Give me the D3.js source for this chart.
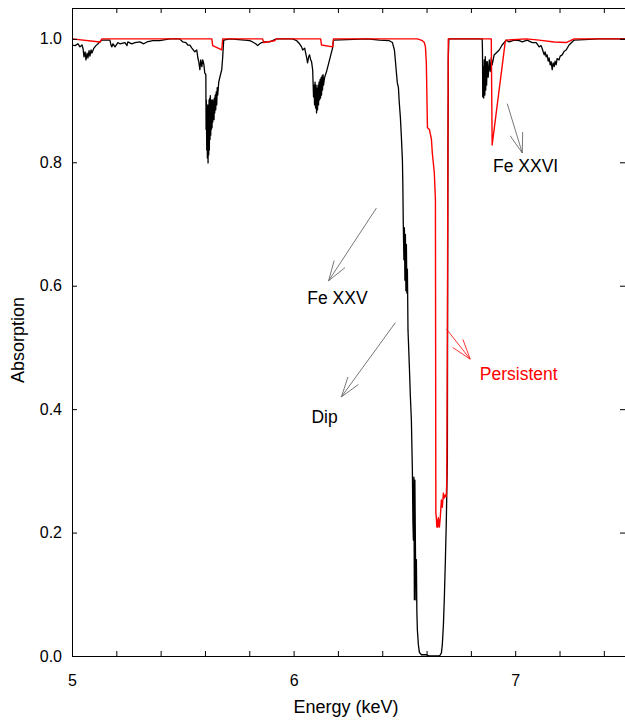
<!DOCTYPE html>
<html><head><meta charset="utf-8">
<script src="https://cdn.jsdelivr.net/npm/d3@7"></script>
<style>
html,body{margin:0;padding:0;background:#fff;}
text{font-family:"Liberation Sans",Arial,sans-serif;}
</style></head>
<body>
<script>
// ---- data (Energy keV, Absorption) ----
const dipSpectrum = [
[5.000,0.990],[5.014,0.989],[5.027,0.992],[5.036,0.987],[5.045,0.990],[5.050,0.984],[5.054,0.971],[5.059,0.979],
[5.063,0.966],[5.068,0.977],[5.072,0.969],[5.077,0.981],[5.081,0.972],[5.086,0.982],[5.090,0.977],[5.099,0.985],
[5.108,0.989],[5.126,0.995],[5.135,0.998],[5.171,0.998],[5.176,0.990],[5.180,0.987],[5.185,0.992],[5.194,0.987],
[5.207,0.994],[5.216,0.992],[5.239,0.994],[5.248,0.989],[5.252,0.995],[5.270,0.992],[5.284,0.994],[5.306,0.995],
[5.324,0.992],[5.338,0.995],[5.365,0.997],[5.396,0.997],[5.441,1.000],[5.486,1.000],[5.500,0.995],[5.514,0.994],
[5.523,0.990],[5.532,0.990],[5.541,0.985],[5.554,0.979],[5.563,0.982],[5.568,0.969],[5.572,0.963],[5.577,0.950],
[5.581,0.966],[5.586,0.955],[5.590,0.966],[5.595,0.959],[5.599,0.945],[5.604,0.942],
[5.6050,0.853],[5.6063,0.901],[5.6081,0.820],[5.6095,0.885],[5.6108,0.807],[5.6126,0.893],[5.6140,0.799],
[5.6153,0.885],[5.6171,0.812],[5.6185,0.901],[5.6198,0.820],[5.6216,0.904],[5.6230,0.837],[5.6243,0.908],
[5.6261,0.844],[5.6275,0.901],[5.6288,0.853],[5.6306,0.893],[5.6320,0.856],[5.6333,0.901],[5.6351,0.865],
[5.6365,0.896],[5.6378,0.872],[5.6396,0.901],[5.6410,0.869],[5.6423,0.904],[5.6441,0.880],[5.6464,0.909],
[5.6486,0.885],[5.6509,0.914],[5.6532,0.893],[5.6554,0.921],[5.6577,0.909],[5.6622,0.930],[5.6667,0.937],
[5.6757,0.950],[5.6802,0.971],[5.6824,0.985],[5.6847,0.998],
[5.712,1.000],[5.779,0.998],[5.802,0.997],[5.815,0.995],[5.829,0.992],[5.838,0.989],[5.847,0.992],[5.856,0.994],
[5.869,0.995],[5.892,0.995],[5.923,1.000],[5.995,1.000],[6.014,0.997],[6.027,0.992],[6.036,0.987],[6.041,0.982],
[6.050,0.985],[6.059,0.969],[6.063,0.961],[6.068,0.971],[6.072,0.974],[6.077,0.966],[6.081,0.963],[6.086,0.950],
[6.090,0.906],[6.0923,0.925],[6.0946,0.893],[6.0968,0.930],[6.0991,0.888],[6.1014,0.925],[6.1036,0.880],
[6.1059,0.920],[6.1081,0.885],[6.1104,0.925],[6.1126,0.893],[6.1149,0.930],[6.1171,0.901],[6.1194,0.934],
[6.1216,0.904],[6.1239,0.937],[6.1261,0.909],[6.1284,0.940],[6.1306,0.917],[6.1329,0.942],[6.1351,0.925],
[6.1396,0.937],[6.1486,0.947],[6.1622,0.966],[6.1757,0.985],[6.1802,0.998],
[6.333,1.000],[6.387,0.998],[6.432,0.997],[6.446,0.994],[6.455,0.982],[6.459,0.966],[6.464,0.945],[6.468,0.929],
[6.473,0.921],[6.477,0.896],[6.482,0.872],[6.486,0.844],[6.491,0.804],[6.493,0.763],[6.495,0.699],
[6.4977,0.642],[6.5000,0.694],[6.5023,0.609],[6.5045,0.683],[6.5068,0.592],[6.5090,0.667],[6.5113,0.588],
[6.5135,0.627],[6.5149,0.577],[6.5162,0.528],[6.5180,0.512],[6.5225,0.468],[6.5270,0.420],[6.5315,0.382],
[6.5360,0.301],[6.5383,0.220],[6.5405,0.188],[6.5428,0.290],[6.5450,0.091],[6.5473,0.285],[6.5495,0.188],
[6.5518,0.091],[6.5541,0.156],[6.5563,0.070],[6.5586,0.042],[6.5631,0.018],[6.5676,0.006],[6.5766,0.002],
[6.5991,0.002],[6.613,0.000],[6.658,0.000],[6.662,0.002],[6.667,0.005],[6.671,0.018],[6.676,0.050],[6.680,0.091],
[6.685,0.156],[6.689,0.216],[6.694,0.321],[6.6950,0.577],[6.6964,0.820],[6.698,0.914],[6.698,0.966],[6.7005,1.000],
[6.851,1.000],[6.8523,0.982],[6.8536,0.906],[6.856,0.955],[6.858,0.904],[6.860,0.966],[6.863,0.909],[6.865,0.971],
[6.867,0.917],[6.869,0.963],[6.871,0.925],[6.874,0.963],[6.878,0.938],[6.883,0.966],[6.887,0.947],[6.892,0.969],
[6.896,0.958],[6.905,0.974],[6.914,0.977],[6.928,0.982],[6.941,0.990],[6.950,0.994],[6.959,0.998],[6.973,0.995],
[6.995,0.998],[7.018,0.997],[7.032,0.995],[7.054,0.998],[7.077,0.994],[7.095,0.994],[7.108,0.987],[7.117,0.989],
[7.122,0.984],[7.131,0.974],[7.135,0.979],[7.140,0.971],[7.144,0.974],[7.149,0.964],[7.153,0.969],[7.158,0.958],
[7.162,0.963],[7.167,0.950],[7.171,0.961],[7.176,0.955],[7.180,0.964],[7.185,0.958],[7.189,0.968],[7.198,0.966],
[7.203,0.972],[7.212,0.974],[7.221,0.980],[7.230,0.982],[7.243,0.990],[7.266,0.998],[7.378,1.000],[7.500,1.000]
];
const persistentSpectrum = [
[5.000,1.000],[5.126,0.995],[5.135,1.000],[5.631,1.000],[5.635,0.989],[5.676,0.982],[5.680,1.000],
[5.860,1.000],[5.865,0.994],[5.914,0.997],[5.923,1.000],[6.122,1.000],[6.126,0.990],[6.176,0.987],[6.180,1.000],
[6.559,1.000],[6.581,0.997],[6.590,0.994],[6.595,0.987],[6.599,0.961],[6.604,0.856],[6.613,0.853],[6.622,0.837],
[6.626,0.815],[6.635,0.783],[6.640,0.739],[6.6419,0.232],[6.644,0.225],[6.6464,0.209],[6.649,0.220],
[6.6509,0.209],[6.6532,0.224],[6.658,0.209],[6.662,0.225],[6.667,0.253],[6.671,0.241],[6.676,0.264],
[6.680,0.256],[6.685,0.261],[6.689,0.258],[6.6914,0.285],[6.694,0.528],[6.698,1.000],
[6.892,1.000],[6.896,0.828],[6.955,0.995],[6.959,0.998],[7.050,1.000],[7.108,0.998],[7.176,0.995],
[7.230,0.994],[7.266,1.000],[7.500,1.000]
];
const xTicks = [5.0,5.2,5.4,5.6,5.8,6.0,6.2,6.4,6.6,6.8,7.0,7.2,7.4];
const xTickLabels = {"5.0":"5","6.0":"6","7.0":"7"};
const yTicks = [0.0,0.2,0.4,0.6,0.8,1.0];
const annotationLabels = ["Fe XXV","Dip","Persistent","Fe XXVI"];
const annotationText = [[6.198,0.5705],[6.140,0.3776],[7.016,0.447],[7.047,0.785]];
const annotationArrowFrom = [[6.374,0.726],[6.459,0.540],[6.689,0.530],[6.964,0.895]];
const annotationArrowTo = [[6.158,0.608],[6.216,0.420],[6.797,0.481],[7.032,0.815]];
const annotationColors = ["#555","#555","#ff0000","#555"];
const annotationTextColors = ["#000","#000","#ff0000","#000"];

// ---- layout ----
const W = 625, H = 720;
const L = 72, T = 8, R = 626, B = 656;
const svg = d3.select("body").append("svg").attr("width", W).attr("height", H)
  .style("display","block");
svg.append("rect").attr("width",W).attr("height",H).attr("fill","#fff");

const x = d3.scaleLinear().domain([5, 7.5]).range([L, R]);
const y = d3.scaleLinear().domain([0, 1.05]).range([B, T]);

svg.append("clipPath").attr("id","clip").append("rect")
  .attr("x",L).attr("y",T).attr("width",R-L).attr("height",B-T);

const line = d3.line().x(d => x(d[0])).y(d => y(d[1]));
const g = svg.append("g").attr("clip-path","url(#clip)");
g.append("path").datum(dipSpectrum).attr("d", line)
  .attr("fill","none").attr("stroke","#000").attr("stroke-width",1.3).attr("stroke-linejoin","round");
g.append("path").datum(persistentSpectrum).attr("d", line)
  .attr("fill","none").attr("stroke","#ff0000").attr("stroke-width",1.4).attr("stroke-linejoin","round");

// ---- axes ----
const fmtX = d => xTickLabels[d.toFixed(1)] || "";
const axB = svg.append("g").attr("transform",`translate(0,${B})`)
  .call(d3.axisBottom(x).tickValues(xTicks).tickFormat(fmtX).tickSizeInner(-5).tickSizeOuter(0).tickPadding(19));
const axT = svg.append("g").attr("transform",`translate(0,${T})`)
  .call(d3.axisTop(x).tickValues(xTicks).tickFormat("").tickSizeInner(-5).tickSizeOuter(0));
const axL = svg.append("g").attr("transform",`translate(${L},0)`)
  .call(d3.axisLeft(y).tickValues(yTicks).tickFormat(d3.format(".1f")).tickSizeInner(-5).tickSizeOuter(0).tickPadding(10));
const axR = svg.append("g").attr("transform",`translate(${R-1},0)`)
  .call(d3.axisRight(y).tickValues(yTicks).tickFormat("").tickSizeInner(-5).tickSizeOuter(0));
[axB,axT,axL,axR].forEach(a => {
  a.selectAll("path.domain").attr("stroke","#000").attr("stroke-width",1);
  a.selectAll(".tick line").attr("stroke","#000");
  a.selectAll("text").style("font-family","'Liberation Sans',Arial,sans-serif")
    .style("font-size","16px").attr("fill","#000");
});
svg.append("text").attr("x", (L+R)/2 - 3).attr("y", 713).attr("text-anchor","middle")
  .style("font-size","18px").text("Energy (keV)");
svg.append("text").attr("transform",`translate(24,${(T+B)/2+8}) rotate(-90)`).attr("text-anchor","middle")
  .style("font-size","18px").text("Absorption");

// ---- annotations ----
const headLen = 21, headAng = 18 * Math.PI/180;
annotationLabels.forEach((lab, i) => {
  const [x1,y1] = [x(annotationArrowFrom[i][0]), y(annotationArrowFrom[i][1])];
  const [x2,y2] = [x(annotationArrowTo[i][0]), y(annotationArrowTo[i][1])];
  const a = Math.atan2(y1-y2, x1-x2);
  const col = annotationColors[i];
  const ag = svg.append("g").attr("stroke",col).attr("stroke-width",0.8).attr("fill","none");
  ag.append("line").attr("x1",x1).attr("y1",y1).attr("x2",x2).attr("y2",y2);
  [a-headAng, a+headAng].forEach(t => {
    ag.append("line").attr("x1",x2).attr("y1",y2)
      .attr("x2",x2+headLen*Math.cos(t)).attr("y2",y2+headLen*Math.sin(t));
  });
  svg.append("text").attr("x", x(annotationText[i][0])).attr("y", y(annotationText[i][1]))
    .attr("text-anchor","middle").attr("fill",annotationTextColors[i])
    .style("font-size","17.5px").text(lab);
});
</script>
</body></html>
